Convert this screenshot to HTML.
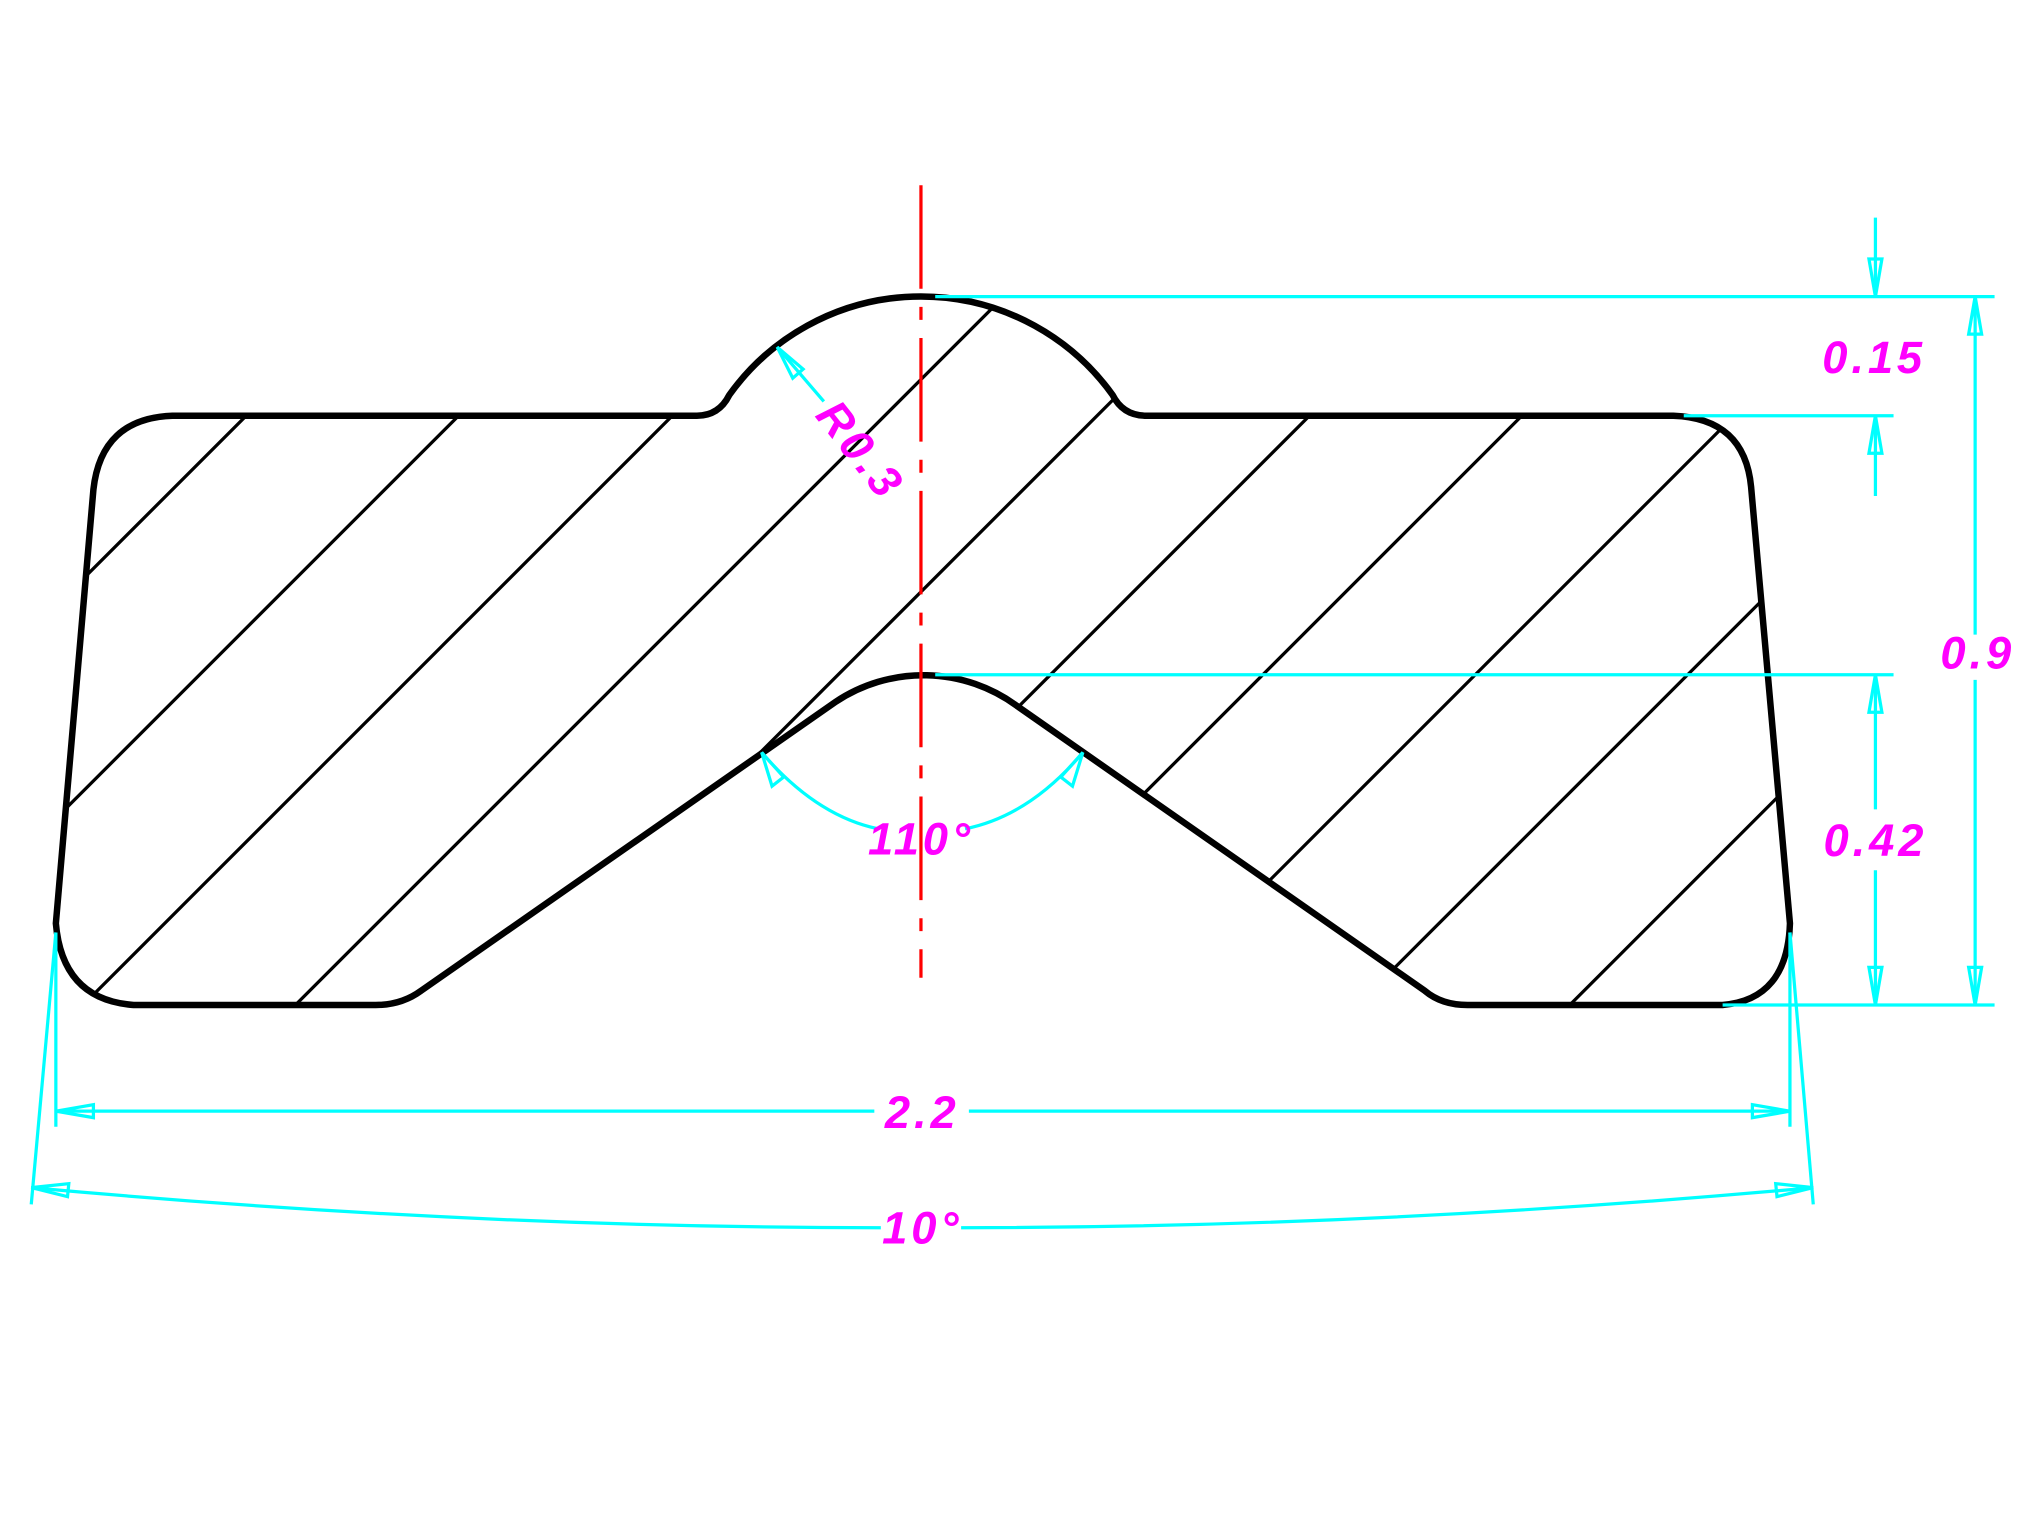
<!DOCTYPE html>
<html><head><meta charset="utf-8"><style>
html,body{margin:0;padding:0;background:#fff;overflow:hidden;width:2031px;height:1523px;}
svg{display:block;}
text{font-family:"Liberation Sans",sans-serif;font-style:italic;font-weight:bold;fill:#ff00ff;font-size:35px;letter-spacing:3px;}
</style></head><body>
<svg width="2031" height="1523" viewBox="0 0 1568 1176" xmlns="http://www.w3.org/2000/svg">
<defs>
<clipPath id="c"><path d="M133,321 L538,321 Q555,321 563,305 A182,182 0 0 1 859,305 Q867,321 885,321 L1292,321 Q1347,323 1352,376 L1382,713 Q1380,772 1330,776 L1133,776 Q1113,776 1100,765 L785,545 A122,122 0 0 0 645,542 L325,765 Q310,776 290,776 L103,776 Q48,772 43,713 L72,378 Q78,323 133,321 Z"/></clipPath>
</defs>
<g clip-path="url(#c)" stroke="#000" stroke-width="2.5">
<line x1="0" y1="511" x2="511" y2="0"/>
<line x1="0" y1="675" x2="675" y2="0"/>
<line x1="0" y1="840" x2="840" y2="0"/>
<line x1="0" y1="1004" x2="1004" y2="0"/>
<line x1="0" y1="1168" x2="1168" y2="0"/>
<line x1="0" y1="1332" x2="1332" y2="0"/>
<line x1="0" y1="1496" x2="1496" y2="0"/>
<line x1="100" y1="1560" x2="1660" y2="0"/>
<line x1="264" y1="1560" x2="1824" y2="0"/>
<line x1="428" y1="1560" x2="1988" y2="0"/>
</g>
<path d="M133,321 L538,321 Q555,321 563,305 A182,182 0 0 1 859,305 Q867,321 885,321 L1292,321 Q1347,323 1352,376 L1382,713 Q1380,772 1330,776 L1133,776 Q1113,776 1100,765 L785,545 A122,122 0 0 0 645,542 L325,765 Q310,776 290,776 L103,776 Q48,772 43,713 L72,378 Q78,323 133,321 Z" fill="none" stroke="#000" stroke-width="5"/>
<line x1="711" y1="143" x2="711" y2="755" stroke="#f00" stroke-width="2.5" stroke-dasharray="80,14,10,14"/>
<g stroke="#00ffff" stroke-width="2.5" fill="none">
<line x1="722" y1="229" x2="1540" y2="229"/>
<line x1="1300" y1="321" x2="1462" y2="321"/>
<line x1="722" y1="521" x2="1462" y2="521"/>
<line x1="1330" y1="776" x2="1540" y2="776"/>
<line x1="1525" y1="229" x2="1525" y2="490"/>
<line x1="1525" y1="525" x2="1525" y2="776"/>
<line x1="1448" y1="168" x2="1448" y2="229"/>
<line x1="1448" y1="321" x2="1448" y2="383"/>
<line x1="1448" y1="521" x2="1448" y2="625"/>
<line x1="1448" y1="672" x2="1448" y2="776"/>
<line x1="43" y1="720" x2="43" y2="870"/>
<line x1="1382" y1="720" x2="1382" y2="870"/>
<line x1="43" y1="858" x2="675" y2="858"/>
<line x1="748" y1="858" x2="1382" y2="858"/>
<line x1="43" y1="720" x2="24" y2="930"/>
<line x1="1382" y1="720" x2="1400" y2="930"/>
<path d="M24,917 Q360,948 680,948"/>
<path d="M742,948 Q1060,948 1400,917"/>
<path d="M588,581 Q630,630 678,640"/>
<path d="M745,640 Q795,630 836,581"/>
<line x1="600" y1="268" x2="636" y2="310"/>
<polygon points="1448,229 1443,200 1453,200"/>
<polygon points="1448,321 1443,350 1453,350"/>
<polygon points="1448,521 1443,550 1453,550"/>
<polygon points="1448,776 1443,747 1453,747"/>
<polygon points="1525,229 1520,258 1530,258"/>
<polygon points="1525,776 1520,747 1530,747"/>
<polygon points="43,858 72,853 72,863"/>
<polygon points="1382,858 1353,853 1353,863"/>
<polygon points="24,917 53,914 52,924"/>
<polygon points="1400,917 1371,914 1372,924"/>
<polygon points="600,268 612,292 620,285"/>
<polygon points="588,581 596,607 605,600"/>
<polygon points="836,581 828,607 819,600"/>
</g>
<text x="1447" y="288" text-anchor="middle">0.15</text>
<text x="1527" y="516" text-anchor="middle">0.9</text>
<text x="1448" y="661" text-anchor="middle">0.42</text>
<text x="712" y="871" text-anchor="middle">2.2</text>
<text x="712" y="960" text-anchor="middle">10°</text>
<text x="711" y="660" text-anchor="middle">110°</text>
<text x="655" y="355" text-anchor="middle" transform="rotate(52 655 355)">R0.3</text>
</svg>
</body></html>
